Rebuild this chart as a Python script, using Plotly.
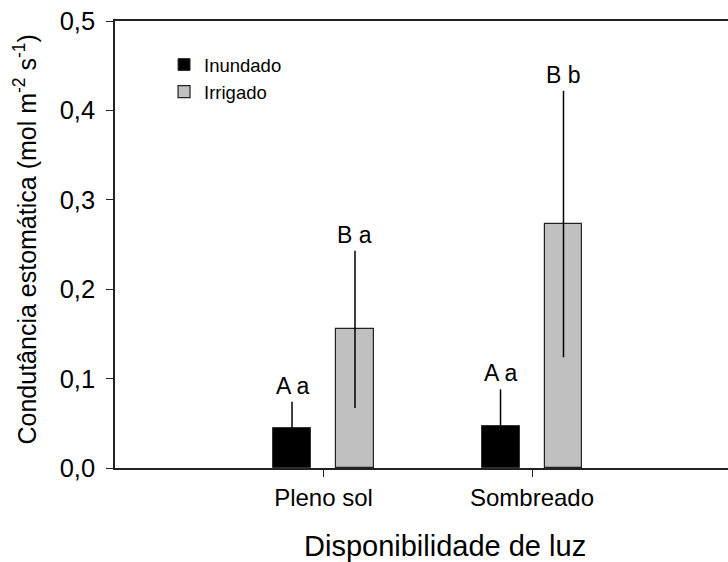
import plotly.graph_objects as go

categories = ["Pleno sol", "Sombreado"]
inundado = [0.045, 0.047]
inundado_err = [0.029, 0.041]
irrigado = [0.155, 0.273]
irrigado_err = [0.088, 0.149]
inundado_labels = ["A a", "A a"]
irrigado_labels = ["B a", "B b"]
y_tickvals = [0.0, 0.1, 0.2, 0.3, 0.4, 0.5]
y_ticktext = ["0,0", "0,1", "0,2", "0,3", "0,4", "0,5"]

FONT = "Liberation Sans, Arial, sans-serif"
BW = 0.182
GAP = 0.151

fig = go.Figure()
fig.add_trace(go.Bar(
    x=categories, y=inundado, name="Inundado",
    width=BW, offset=-GAP - BW / 2,
    marker=dict(color="black", line=dict(color="#333333", width=1)),
    error_y=dict(type="data", array=inundado_err, arrayminus=[0, 0],
                 symmetric=False, width=0, thickness=1.5, color="black"),
))
fig.add_trace(go.Bar(
    x=categories, y=irrigado, name="Irrigado",
    width=BW, offset=GAP - BW / 2,
    marker=dict(color="#c0c0c0", line=dict(color="#222222", width=1.2)),
    error_y=dict(type="data", array=irrigado_err, width=0, thickness=1.5, color="black"),
))

for cat, v, e, t in zip(categories, inundado, inundado_err, inundado_labels):
    fig.add_annotation(x=cat, y=v + e, text=t, showarrow=False, xshift=-GAP * 208.5,
                       yanchor="bottom", yshift=1, font=dict(size=23, color="black", family=FONT))
for cat, v, e, t in zip(categories, irrigado, irrigado_err, irrigado_labels):
    fig.add_annotation(x=cat, y=v + e, text=t, showarrow=False, xshift=GAP * 208.5,
                       yanchor="bottom", yshift=1, font=dict(size=23, color="black", family=FONT))

fig.add_annotation(x=0.539, y=-0.175, xref="paper", yref="paper", text="Disponibilidade de luz",
                   showarrow=False, yanchor="middle", xanchor="center",
                   font=dict(size=29, color="black", family=FONT))
fig.add_annotation(x=-0.146, y=0.51, xref="paper", yref="paper",
                   text="Condutância estomática (mol m<sup>-2</sup> s<sup>-1</sup>)",
                   showarrow=False, textangle=-90, xanchor="center", yanchor="middle",
                   font=dict(size=25, color="black", family=FONT))

fig.update_layout(
    width=728, height=562,
    margin=dict(l=115, r=0, t=21, b=94),
    plot_bgcolor="white", paper_bgcolor="white",
    font=dict(family=FONT, color="black", size=24),
    showlegend=True,
    legend=dict(x=0.08, y=0.944, xanchor="left", yanchor="top",
                font=dict(size=18.5, color="black", family=FONT),
                bgcolor="rgba(0,0,0,0)", tracegroupgap=0, itemwidth=30),
    bargap=0, barmode="group",
)
fig.update_xaxes(
    type="category", range=[-1, 1.94],
    showline=True, linecolor="#222222", linewidth=1.5, mirror=True,
    ticks="outside", ticklen=7, tickwidth=1.2, tickcolor="#222222",
    showgrid=False, zeroline=False,
    tickfont=dict(size=24, color="black", family=FONT),
)
fig.update_yaxes(
    range=[0, 0.5], tickvals=y_tickvals, ticktext=y_ticktext,
    showline=True, linecolor="#222222", linewidth=1.5,
    ticks="outside", ticklen=7, tickwidth=1.2, tickcolor="#222222",
    ticklabelstandoff=6,
    showgrid=False, zeroline=False,
    tickfont=dict(size=25.5, color="black", family=FONT),
)

fig.write_html("out.html", config={"displayModeBar": False},
               post_script="document.body.style.margin='0';document.body.style.overflow='hidden';")
